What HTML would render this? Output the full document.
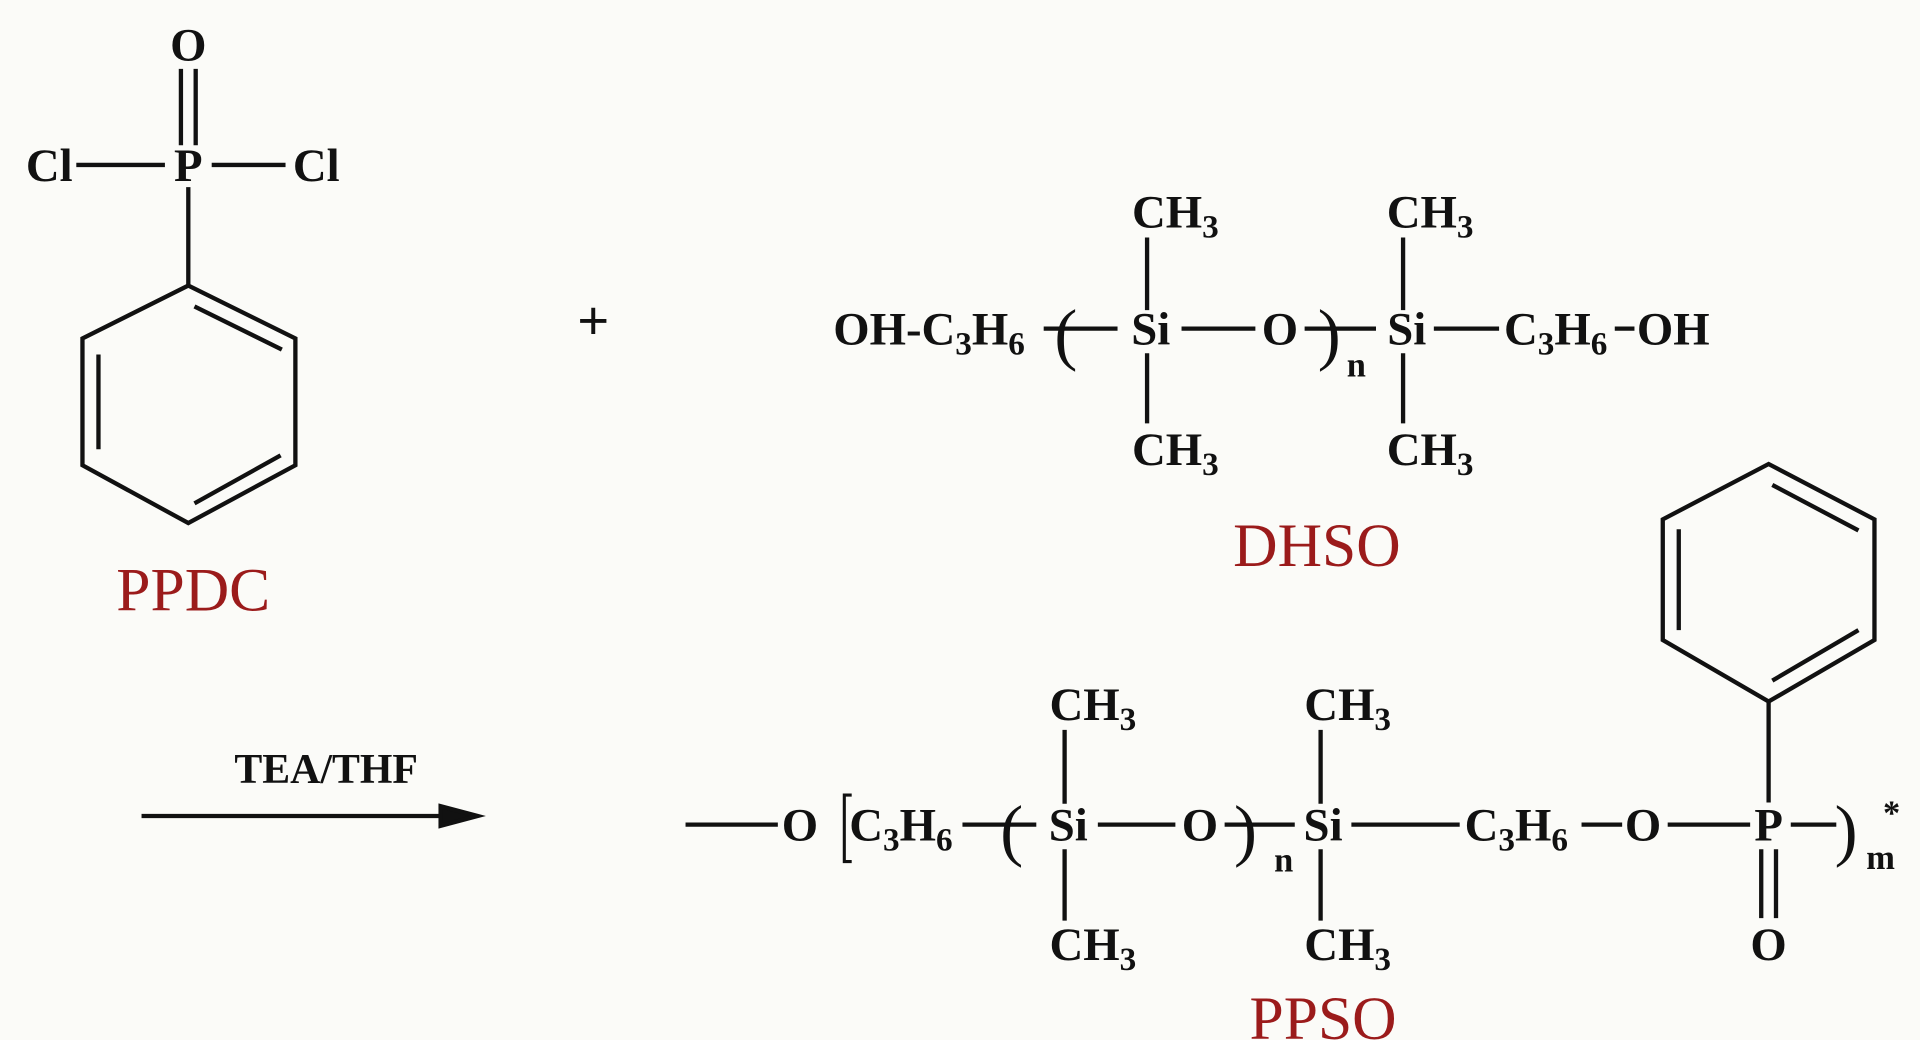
<!DOCTYPE html>
<html><head><meta charset="utf-8"><style>
html,body{margin:0;padding:0;background:#fbfbf8;}
svg{display:block}
text{font-family:"Liberation Serif",serif;fill:#111;}
.b{font-weight:bold;font-size:38px;}
.r{fill:#9b1b1b;font-size:50px;}
line,polyline,polygon,path{stroke:#111;stroke-width:3.5;fill:none;}
</style></head><body>
<svg width="1920" height="1040" viewBox="0 0 1560 845" xmlns="http://www.w3.org/2000/svg">
<!-- PPDC -->
<text class="b" x="153" y="49" text-anchor="middle">O</text>
<line x1="147" y1="56" x2="147" y2="118"/><line x1="159" y1="56" x2="159" y2="118"/>
<text class="b" x="153" y="147" text-anchor="middle">P</text>
<text class="b" x="40" y="147" text-anchor="middle">Cl</text>
<text class="b" x="257" y="147" text-anchor="middle">Cl</text>
<line x1="62" y1="134" x2="134" y2="134"/><line x1="172" y1="134" x2="232" y2="134"/>
<line x1="153" y1="152" x2="153" y2="232"/>
<polygon points="153,232 240,275 240,378 153,425 67,378 67,275"/>
<line x1="158" y1="249" x2="229" y2="284"/>
<line x1="228" y1="370" x2="158" y2="409"/>
<line x1="80" y1="288" x2="80" y2="365"/>
<text class="r" x="157" y="496" text-anchor="middle">PPDC</text>
<text x="482" y="276" text-anchor="middle" style="font-size:46px;font-weight:bold">+</text>
<!-- DHSO -->
<text class="b" x="677" y="280">OH-C<tspan dy="8" font-size="27">3</tspan><tspan dy="-8">H</tspan><tspan dy="8" font-size="27">6</tspan></text>
<text x="866" y="290" text-anchor="middle" style="font-size:56px">(</text>
<line x1="848" y1="267" x2="908" y2="267"/>
<text class="b" x="935" y="280" text-anchor="middle">Si</text>
<line x1="960" y1="267" x2="1020" y2="267"/>
<text class="b" x="1040" y="280" text-anchor="middle">O</text>
<line x1="1060" y1="267" x2="1118" y2="267"/>
<text x="1080" y="290" text-anchor="middle" style="font-size:56px">)</text>
<text class="b" x="1102" y="306" text-anchor="middle" style="font-size:28px">n</text>
<text class="b" x="1143" y="280" text-anchor="middle">Si</text>
<line x1="1165" y1="267" x2="1218" y2="267"/>
<text class="b" x="1222" y="280">C<tspan dy="8" font-size="27">3</tspan><tspan dy="-8">H</tspan><tspan dy="8" font-size="27">6</tspan></text>
<line x1="1312" y1="267" x2="1328" y2="267"/>
<text class="b" x="1330" y="280">OH</text>
<text class="b" x="955" y="185" text-anchor="middle">CH<tspan dy="8" font-size="27">3</tspan></text>
<text class="b" x="1162" y="185" text-anchor="middle">CH<tspan dy="8" font-size="27">3</tspan></text>
<text class="b" x="955" y="378" text-anchor="middle">CH<tspan dy="8" font-size="27">3</tspan></text>
<text class="b" x="1162" y="378" text-anchor="middle">CH<tspan dy="8" font-size="27">3</tspan></text>
<line x1="932" y1="193" x2="932" y2="252"/><line x1="932" y1="287" x2="932" y2="344"/>
<line x1="1140" y1="193" x2="1140" y2="252"/><line x1="1140" y1="287" x2="1140" y2="344"/>
<text class="r" x="1070" y="460" text-anchor="middle">DHSO</text>
<!-- arrow -->
<text class="b" x="265" y="636" text-anchor="middle" style="font-size:34px">TEA/THF</text>
<line x1="115" y1="663" x2="370" y2="663"/>
<polygon points="388,663 358,655 358,671" style="fill:#111"/>
<!-- PPSO -->
<line x1="557" y1="670" x2="632" y2="670"/>
<text class="b" x="650" y="683" text-anchor="middle">O</text>
<path d="M692,646 L686,646 L686,700 L692,700" style="stroke-width:2.5"/>
<text class="b" x="690" y="683">C<tspan dy="8" font-size="27">3</tspan><tspan dy="-8">H</tspan><tspan dy="8" font-size="27">6</tspan></text>
<line x1="782" y1="670" x2="842" y2="670"/>
<text x="822" y="693" text-anchor="middle" style="font-size:56px">(</text>
<text class="b" x="868" y="683" text-anchor="middle">Si</text>
<line x1="892" y1="670" x2="955" y2="670"/>
<text class="b" x="975" y="683" text-anchor="middle">O</text>
<line x1="995" y1="670" x2="1052" y2="670"/>
<text x="1012" y="693" text-anchor="middle" style="font-size:56px">)</text>
<text class="b" x="1043" y="708" text-anchor="middle" style="font-size:28px">n</text>
<text class="b" x="1075" y="683" text-anchor="middle">Si</text>
<line x1="1098" y1="670" x2="1186" y2="670"/>
<text class="b" x="1190" y="683">C<tspan dy="8" font-size="27">3</tspan><tspan dy="-8">H</tspan><tspan dy="8" font-size="27">6</tspan></text>
<line x1="1285" y1="670" x2="1318" y2="670"/>
<text class="b" x="1335" y="683" text-anchor="middle">O</text>
<line x1="1355" y1="670" x2="1422" y2="670"/>
<text class="b" x="1437" y="683" text-anchor="middle">P</text>
<line x1="1455" y1="670" x2="1492" y2="670"/>
<text x="1500" y="693" text-anchor="middle" style="font-size:56px">)</text>
<text class="b" x="1528" y="706" text-anchor="middle" style="font-size:28px">m</text>
<text class="b" x="1537" y="670" text-anchor="middle" style="font-size:28px">*</text>
<text class="b" x="888" y="585" text-anchor="middle">CH<tspan dy="8" font-size="27">3</tspan></text>
<text class="b" x="1095" y="585" text-anchor="middle">CH<tspan dy="8" font-size="27">3</tspan></text>
<text class="b" x="888" y="780" text-anchor="middle">CH<tspan dy="8" font-size="27">3</tspan></text>
<text class="b" x="1095" y="780" text-anchor="middle">CH<tspan dy="8" font-size="27">3</tspan></text>
<line x1="865" y1="593" x2="865" y2="653"/><line x1="865" y1="690" x2="865" y2="748"/>
<line x1="1073" y1="593" x2="1073" y2="653"/><line x1="1073" y1="690" x2="1073" y2="748"/>
<line x1="1431" y1="690" x2="1431" y2="746"/><line x1="1443" y1="690" x2="1443" y2="746"/>
<text class="b" x="1437" y="780" text-anchor="middle">O</text>
<line x1="1437" y1="652" x2="1437" y2="570"/>
<polygon points="1437,570 1523,520 1523,422 1437,377 1351,422 1351,520"/>
<line x1="1510" y1="512" x2="1440" y2="553"/>
<line x1="1364" y1="430" x2="1364" y2="512"/>
<line x1="1440" y1="394" x2="1510" y2="431"/>
<text class="r" x="1075" y="844" text-anchor="middle">PPSO</text>
</svg>
</body></html>
